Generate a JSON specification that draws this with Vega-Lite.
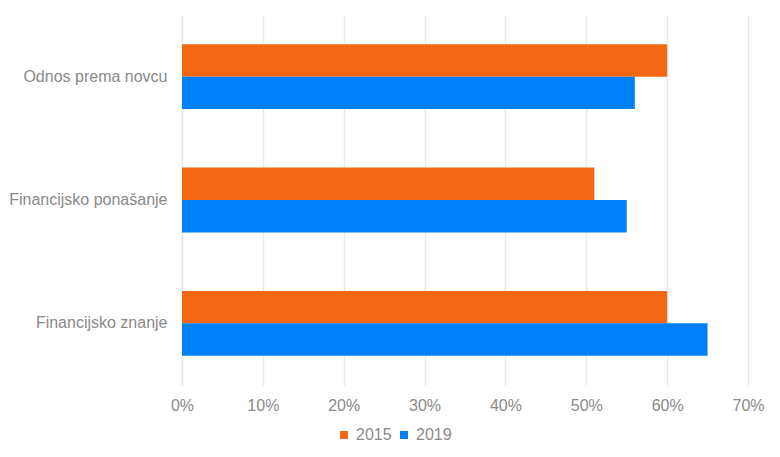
{
  "$schema": "https://vega.github.io/schema/vega-lite/v6.json",
  "width": 566,
  "height": 370,
  "autosize": {"type": "none"},
  "padding": {"left": 182, "top": 15, "right": 32, "bottom": 72},
  "background": "white",
  "config": {
    "view": {"stroke": null},
    "font": "Liberation Sans"
  },
  "data": {
    "values": [
      {"category": "Odnos prema novcu", "year": "2015", "value": 0.60},
      {"category": "Odnos prema novcu", "year": "2019", "value": 0.56},
      {"category": "Financijsko ponašanje", "year": "2015", "value": 0.51},
      {"category": "Financijsko ponašanje", "year": "2019", "value": 0.55},
      {"category": "Financijsko znanje", "year": "2015", "value": 0.60},
      {"category": "Financijsko znanje", "year": "2019", "value": 0.65}
    ]
  },
  "mark": {"type": "bar"},
  "encoding": {
    "y": {
      "field": "category",
      "type": "nominal",
      "sort": ["Odnos prema novcu", "Financijsko ponašanje", "Financijsko znanje"],
      "scale": {"paddingInner": 0.474, "paddingOuter": 0.237},
      "axis": {
        "title": null,
        "domain": true,
        "domainColor": "#e6eaf0",
        "domainWidth": 1.5,
        "ticks": false,
        "labelPadding": 15,
        "labelFontSize": 16,
        "labelColor": "#8a8a8a",
        "labelFont": "Liberation Sans"
      }
    },
    "yOffset": {
      "field": "year",
      "type": "nominal",
      "sort": ["2015", "2019"],
      "scale": {"paddingInner": 0, "paddingOuter": 0}
    },
    "x": {
      "field": "value",
      "type": "quantitative",
      "scale": {"domain": [0, 0.7], "nice": false},
      "axis": {
        "title": null,
        "format": ".0%",
        "values": [0, 0.1, 0.2, 0.3, 0.4, 0.5, 0.6, 0.7],
        "grid": true,
        "gridColor": "#e6eaf0",
        "gridWidth": 1.5,
        "domain": false,
        "ticks": false,
        "labelFlush": false,
        "labelOverlap": false,
        "labelPadding": 12,
        "labelFontSize": 16,
        "labelColor": "#8a8a8a",
        "labelFont": "Liberation Sans"
      }
    },
    "color": {
      "field": "year",
      "type": "nominal",
      "sort": ["2015", "2019"],
      "scale": {"domain": ["2015", "2019"], "range": ["#f26711", "#0080f6"]},
      "legend": {
        "title": null,
        "orient": "none",
        "legendX": 154,
        "legendY": 412,
        "direction": "horizontal",
        "symbolType": "square",
        "symbolSize": 64,
        "symbolStrokeWidth": 0,
        "labelFontSize": 16,
        "labelColor": "#8a8a8a",
        "labelFont": "Liberation Sans",
        "labelOffset": 4,
        "columnPadding": 4
      }
    }
  }
}
